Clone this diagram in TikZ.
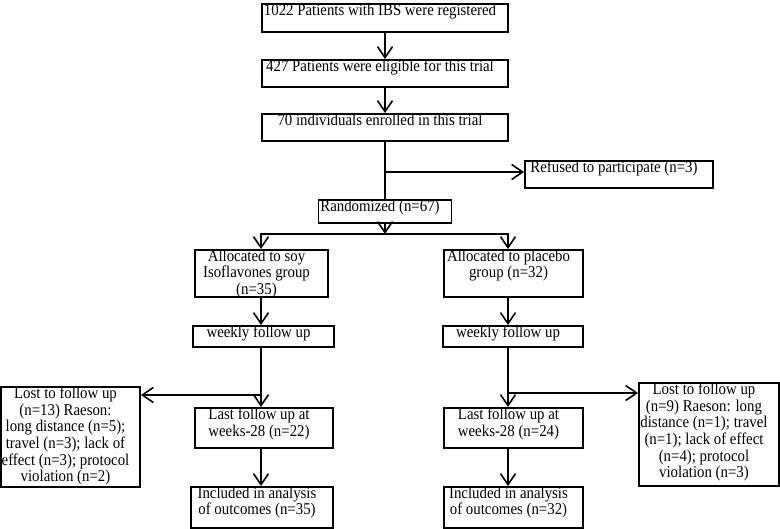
\documentclass[tikz,border=0pt]{standalone}
\usepackage{fontspec}
\setmainfont{Liberation Serif}[FakeStretch=0.9]
\usetikzlibrary{arrows.meta}
\tikzset{
  box/.style={draw, line width=1.9pt, inner sep=0pt},
  txt/.style={anchor=north, align=center, inner sep=0pt, xshift=-5pt, yshift=-0.5pt,
    font=\fontsize{16.5}{16.7}\selectfont},
  link/.style={line width=1.6pt},
  arr/.style={line width=1.6pt, -{Straight Barb[length=11pt,width=15pt]}},
}
\begin{document}
\begin{tikzpicture}[x=1pt, y=-1pt]
  \useasboundingbox (0,0) rectangle (780,529);
  % trunk
  \node[box, minimum width=246pt, minimum height=28pt,
    label={[txt]north:{1022 Patients with IBS were registered}}] (reg) at (385,18) {};
  \node[box, minimum width=246pt, minimum height=27pt,
    label={[txt]north:{427 Patients were eligible for this trial}}] (elig) at (385,73.5) {};
  \node[box, minimum width=246pt, minimum height=27pt,
    label={[txt]north:{70 individuals enrolled in this trial}}] (enr) at (385,127.5) {};
  \node[box, minimum width=188pt, minimum height=27pt,
    label={[txt]north:{Refused to participate (n=3)}}] (ref) at (619,174.5) {};
  \node[box, minimum width=133pt, minimum height=23pt,
    label={[txt]north:{Randomized (n=67)}}] (rnd) at (385,211.5) {};
  % soy arm
  \node[box, minimum width=133pt, minimum height=47pt,
    label={[txt]north:{Allocated to soy\\Isoflavones group\\(n=35)}}] (allS) at (261.5,273.5) {};
  \node[box, minimum width=141pt, minimum height=21pt,
    label={[txt]north:{weekly follow up}}] (wkS) at (263.5,336.5) {};
  \node[box, minimum width=139pt, minimum height=100pt,
    label={[txt]north:{Lost to follow up\\(n=13) Raeson:\\long distance (n=5);\\travel (n=3); lack of\\effect (n=3); protocol\\violation (n=2)}}] (lostS) at (70.5,437) {};
  \node[box, minimum width=138pt, minimum height=40pt,
    label={[txt]north:{Last follow up at\\weeks-28 (n=22)}}] (lastS) at (264,428) {};
  \node[box, minimum width=142pt, minimum height=41pt,
    label={[txt]north:{Included in analysis\\of outcomes (n=35)}}] (incS) at (262,507.5) {};
  % placebo arm
  \node[box, minimum width=139pt, minimum height=47pt,
    label={[txt]north:{Allocated to placebo\\group (n=32)}}] (allP) at (513.5,273.5) {};
  \node[box, minimum width=140pt, minimum height=21pt,
    label={[txt]north:{weekly follow up}}] (wkP) at (513,336.5) {};
  \node[box, minimum width=140pt, minimum height=103pt,
    label={[txt]north:{Lost to follow up\\(n=9) Raeson: long\\distance (n=1); travel\\(n=1); lack of effect\\(n=4); protocol\\violation (n=3)}}] (lostP) at (709,434.5) {};
  \node[box, minimum width=139pt, minimum height=40pt,
    label={[txt]north:{Last follow up at\\weeks-28 (n=24)}}] (lastP) at (513.5,428) {};
  \node[box, minimum width=139pt, minimum height=41pt,
    label={[txt]north:{Included in analysis\\of outcomes (n=32)}}] (incP) at (513.5,507.5) {};

  \coordinate (scol) at (261,0);
  \coordinate (pcol) at (508,0);
  \coordinate (brR) at (385,172);
  \coordinate (split) at (385,234);
  \coordinate (brS) at (261,395);
  \coordinate (brP) at (508,393);

  \draw[arr] (reg) -- (elig);
  \draw[arr] (elig) -- (enr);
  \draw[link] (enr.south) -- (rnd.north);
  \draw[arr] (brR) -- (brR -| ref.west);
  \draw[arr] (rnd.south) -- (split);
  \draw[arr] (split) -| (allS.north -| scol);
  \draw[arr] (split) -| (allP.north -| pcol);

  \draw[arr] (allS.south -| scol) -- (wkS.north -| scol);
  \draw[arr] (wkS.south -| scol) -- (lastS.north -| scol);
  \draw[arr] (brS) -- (brS -| lostS.east);
  \draw[arr] (lastS.south -| scol) -- (incS.north -| scol);

  \draw[arr] (allP.south -| pcol) -- (wkP.north -| pcol);
  \draw[arr] (wkP.south -| pcol) -- (lastP.north -| pcol);
  \draw[arr] (brP) -- (brP -| lostP.west);
  \draw[arr] (lastP.south -| pcol) -- (incP.north -| pcol);
\end{tikzpicture}
\end{document}
